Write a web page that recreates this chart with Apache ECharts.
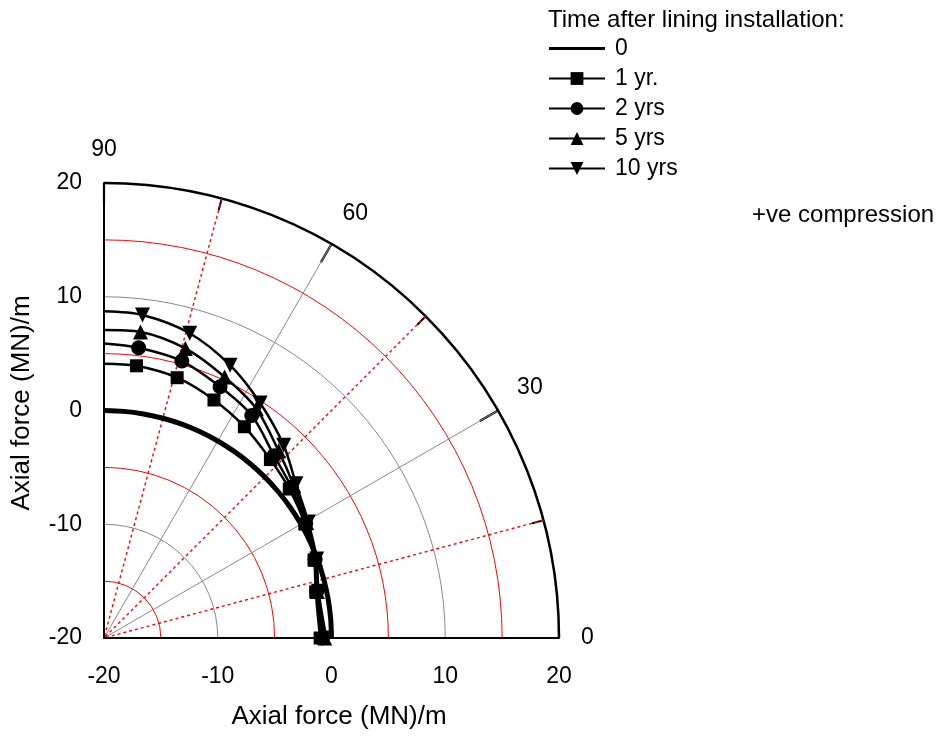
<!DOCTYPE html>
<html>
<head>
<meta charset="utf-8">
<script src="https://cdn.jsdelivr.net/npm/echarts@6/dist/echarts.min.js"></script>
<style>html,body{margin:0;padding:0;background:#fff}#c{width:946px;height:736px}</style>
</head>
<body>
<div id="c"></div>
<script>
// ---- data ----
var seriesNames = ['0', '1 yr.', '2 yrs', '5 yrs', '10 yrs'];
var zeroAngles = [0, 5, 10, 15, 20, 25, 30, 35, 40, 45, 50, 55, 60, 65, 70, 75, 80, 85, 90];
var zeroValues = [0, 0, 0, 0, 0, 0, 0, 0, 0, 0, 0, 0, 0, 0, 0, 0, 0, 0, 0];
var angles = [90, 83.2, 74.3, 65.2, 56.4, 47.0, 38.8, 29.6, 20.4, 12.3, 0];
var yr1 = [4.12, 4.1, 3.77, 3.05, 2.3, 1.45, 0.9, 0.3, -0.3, -0.95, -1.0];
var yr2 = [5.9, 5.7, 5.29, 4.33, 3.48, 1.92, 1.15, 0.4, -0.2, -0.85, -0.8];
var yr5 = [7.08, 7.1, 6.44, 5.27, 4.2, 2.5, 1.4, 0.5, -0.15, -0.8, -0.6];
var yr10 = [8.72, 8.6, 7.83, 6.42, 4.8, 3.16, 1.65, 0.65, -0.05, -0.7, -0.45];
var axisTicks = [-20, -10, 0, 10, 20];
var angleLabels = [0, 30, 60, 90];
var legendTitle = 'Time after lining installation:';
var noteText = '+ve compression';
var axisTitle = 'Axial force (MN)/m';

function pts(vals, angs, markerless) {
  return vals.map(function (v, i) {
    var item = { value: [v, angs[i]] };
    if (markerless && angs[i] === 90) item.symbol = 'none';
    return item;
  });
}

var FONT = 'Liberation Sans, Arial, sans-serif';
var NONE = 'rgba(0,0,0,0)';
var chart = echarts.init(document.getElementById('c'), null, { renderer: 'canvas' });

var markerSeries = [
  { name: seriesNames[1], data: pts(yr1, angles, true), symbol: 'rect', symbolSize: 13 },
  { name: seriesNames[2], data: pts(yr2, angles, true), symbol: 'circle', symbolSize: 15 },
  { name: seriesNames[3], data: pts(yr5, angles, true), symbol: 'triangle', symbolSize: 15 },
  { name: seriesNames[4], data: pts(yr10, angles, true), symbol: 'triangle', symbolSize: 15, symbolRotate: 180 }
].map(function (s) {
  return Object.assign({
    type: 'line', coordinateSystem: 'polar', polarIndex: 0,
    smooth: 0.3, showAllSymbol: true, z: 5,
    lineStyle: { color: '#000', width: 2.5 },
    itemStyle: { color: '#000', borderWidth: 0 }
  }, s);
});

var zeroIcon = 'path://M0,0 L0.01,0 M0,16 L0.01,16 M0,6.5 L56,6.5 L56,9.5 L0,9.5 Z';

var hiddenRadius = {
  axisLine: { show: false, lineStyle: { color: NONE, width: 0, opacity: 0 } },
  axisTick: { show: false }, minorTick: { show: false },
  axisLabel: { show: false }, minorSplitLine: { show: false }, splitArea: { show: false },
  axisPointer: { show: false }
};

var option = {
  animation: false,
  backgroundColor: '#fff',
  textStyle: { fontFamily: FONT },
  title: [
    { text: legendTitle, left: 548, top: 8, padding: 0, textStyle: { fontFamily: FONT, fontSize: 24, fontWeight: 'normal', color: '#000' } },
    { text: noteText, left: 752, top: 203, padding: 0, textStyle: { fontFamily: FONT, fontSize: 24, fontWeight: 'normal', color: '#000' } }
  ],
  legend: {
    orient: 'vertical', left: 548, top: 37, padding: 0,
    itemWidth: 56, itemHeight: 16, itemGap: 7,
    data: [
      { name: seriesNames[0], icon: zeroIcon, itemStyle: { borderWidth: 0 } },
      seriesNames[1], seriesNames[2], seriesNames[3], seriesNames[4]
    ],
    textStyle: { fontFamily: FONT, fontSize: 23, color: '#000', lineHeight: 23, padding: [0, 0, 0, 5] }
  },
  polar: [
    { center: [104, 638], radius: [0, 455] },
    { center: [104, 638], radius: [0, 455] }
  ],
  angleAxis: [{
    polarIndex: 0,
    type: 'value', min: 0, max: 90, interval: 30,
    startAngle: 0, endAngle: 90, clockwise: false, z: 3,
    axisLine: { show: true, lineStyle: { color: '#000', width: 2.5 } },
    axisTick: { show: true, inside: true, length: 21, lineStyle: { color: '#000', width: 2.2 } },
    minorTick: { show: true, splitNumber: 2, length: 12, lineStyle: { color: '#000', width: 2 } },
    axisLabel: { show: true, margin: 22, fontSize: 23, color: '#000', fontFamily: FONT,
      formatter: function (v) { return angleLabels.indexOf(v) >= 0 ? String(v) : ''; } },
    splitLine: { show: true, lineStyle: { color: '#888', width: 1 } },
    minorSplitLine: { show: false }, splitArea: { show: false }
  }, {
    polarIndex: 1,
    type: 'value', min: 15, max: 75, interval: 30,
    startAngle: 15, endAngle: 75, clockwise: false, z: 3.5,
    axisLine: { show: false }, axisTick: { show: false }, axisLabel: { show: false },
    minorSplitLine: { show: false }, splitArea: { show: false },
    splitLine: { show: true, lineStyle: { color: '#ff0000', width: 1.4, type: [3, 3] } }
  }],
  radiusAxis: [Object.assign({
    polarIndex: 0,
    type: 'value', min: -20, max: 20, interval: 5, z: 1,
    splitLine: { show: true, lineStyle: { color: ['#888', '#ff0000'], width: 1 } }
  }, hiddenRadius), Object.assign({
    polarIndex: 1,
    type: 'value', min: -20, max: 20, interval: 5, z: 1,
    splitLine: { show: false }
  }, hiddenRadius)],
  grid: { left: 104, top: 183, width: 455, height: 455, containLabel: false },
  xAxis: {
    type: 'value', min: -20, max: 20, interval: 10, z: 10,
    name: axisTitle, nameLocation: 'middle', nameGap: 66,
    nameTextStyle: { fontFamily: FONT, fontSize: 26, color: '#000', padding: [0, 0, 0, 15] },
    axisLine: { show: true, onZero: false, lineStyle: { color: '#000', width: 2 } },
    axisTick: { show: false }, splitLine: { show: false },
    axisLabel: { margin: 27, fontSize: 23, color: '#000', fontFamily: FONT,
      formatter: function (v) { return axisTicks.indexOf(v) >= 0 ? String(v) : ''; } }
  },
  yAxis: {
    type: 'value', min: -20, max: 20, interval: 10, z: 10,
    name: axisTitle, nameLocation: 'middle', nameGap: 69, nameRotate: 90,
    nameTextStyle: { fontFamily: FONT, fontSize: 26, color: '#000', padding: [0, 0, 0, 15] },
    axisLine: { show: true, onZero: false, lineStyle: { color: '#000', width: 2 } },
    axisTick: { show: false }, splitLine: { show: false },
    axisLabel: { margin: 22, fontSize: 23, color: '#000', fontFamily: FONT,
      formatter: function (v) { return axisTicks.indexOf(v) >= 0 ? String(v) : ''; } }
  },
  series: [
    {
      name: seriesNames[0], type: 'line', coordinateSystem: 'polar', polarIndex: 0,
      data: zeroValues.map(function (v, i) { return [v, zeroAngles[i]]; }),
      symbol: 'none', smooth: 0.3, z: 4,
      lineStyle: { color: '#000', width: 5 }, itemStyle: { color: '#000' }
    }
  ].concat(markerSeries)
};
chart.setOption(option);
</script>
</body>
</html>
